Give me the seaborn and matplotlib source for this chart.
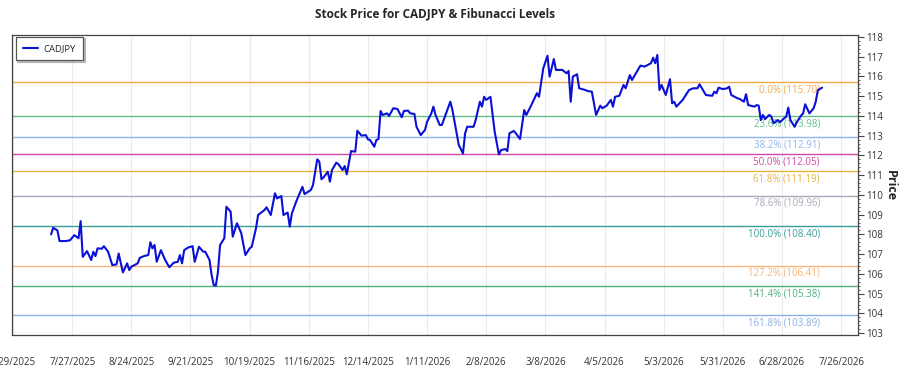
import matplotlib
matplotlib.use("Agg")
import matplotlib.pyplot as plt
import matplotlib.transforms as mtransforms
from matplotlib.ticker import MultipleLocator, FixedLocator
import seaborn as sns
import pandas as pd
import numpy as np

# ---------------- data ----------------
dates = [
    "2025-07-17", "2025-07-18", "2025-07-20", "2025-07-21", "2025-07-24", "2025-07-26", "2025-07-28", "2025-07-30", "2025-07-31",
    "2025-08-01", "2025-08-03", "2025-08-05", "2025-08-06", "2025-08-07", "2025-08-08", "2025-08-10", "2025-08-11", "2025-08-13",
    "2025-08-15", "2025-08-17", "2025-08-18", "2025-08-20", "2025-08-22", "2025-08-23", "2025-08-24", "2025-08-27", "2025-08-28",
    "2025-08-30", "2025-09-01", "2025-09-02", "2025-09-03", "2025-09-04", "2025-09-05", "2025-09-07", "2025-09-09", "2025-09-11",
    "2025-09-13", "2025-09-15", "2025-09-16", "2025-09-17", "2025-09-18", "2025-09-20", "2025-09-22", "2025-09-23", "2025-09-25",
    "2025-09-27", "2025-09-28", "2025-09-30", "2025-10-01", "2025-10-02", "2025-10-03", "2025-10-04", "2025-10-05", "2025-10-07",
    "2025-10-08", "2025-10-10", "2025-10-11", "2025-10-13", "2025-10-15", "2025-10-17", "2025-10-19", "2025-10-20", "2025-10-22",
    "2025-10-23", "2025-10-26", "2025-10-27", "2025-10-29", "2025-10-31", "2025-11-01", "2025-11-03", "2025-11-04", "2025-11-06",
    "2025-11-07", "2025-11-08", "2025-11-10", "2025-11-11", "2025-11-13", "2025-11-14", "2025-11-17", "2025-11-18", "2025-11-20",
    "2025-11-21", "2025-11-22", "2025-11-23", "2025-11-25", "2025-11-26", "2025-11-27", "2025-11-29", "2025-11-30", "2025-12-02",
    "2025-12-03", "2025-12-04", "2025-12-06", "2025-12-08", "2025-12-09", "2025-12-11", "2025-12-13", "2025-12-14", "2025-12-15",
    "2025-12-17", "2025-12-18", "2025-12-19", "2025-12-20", "2025-12-21", "2025-12-23", "2025-12-24", "2025-12-26", "2025-12-28",
    "2025-12-30", "2025-12-31", "2026-01-02", "2026-01-03", "2026-01-05", "2026-01-06", "2026-01-08", "2026-01-10", "2026-01-11",
    "2026-01-13", "2026-01-14", "2026-01-15", "2026-01-17", "2026-01-18", "2026-01-20", "2026-01-22", "2026-01-23", "2026-01-26",
    "2026-01-28", "2026-01-29", "2026-01-30", "2026-02-02", "2026-02-03", "2026-02-05", "2026-02-06", "2026-02-07", "2026-02-08",
    "2026-02-10", "2026-02-12", "2026-02-14", "2026-02-15", "2026-02-17", "2026-02-18", "2026-02-19", "2026-02-21", "2026-02-22",
    "2026-02-24", "2026-02-26", "2026-02-27", "2026-03-01", "2026-03-04", "2026-03-05", "2026-03-07", "2026-03-09", "2026-03-10",
    "2026-03-12", "2026-03-13", "2026-03-16", "2026-03-18", "2026-03-19", "2026-03-20", "2026-03-21", "2026-03-23", "2026-03-24",
    "2026-03-27", "2026-03-28", "2026-03-30", "2026-04-01", "2026-04-03", "2026-04-04", "2026-04-06", "2026-04-08", "2026-04-09",
    "2026-04-10", "2026-04-12", "2026-04-14", "2026-04-15", "2026-04-17", "2026-04-18", "2026-04-22", "2026-04-24", "2026-04-27",
    "2026-04-28", "2026-04-29", "2026-04-30", "2026-05-01", "2026-05-02", "2026-05-04", "2026-05-06", "2026-05-07", "2026-05-08",
    "2026-05-09", "2026-05-12", "2026-05-15", "2026-05-17", "2026-05-19", "2026-05-20", "2026-05-23", "2026-05-26", "2026-05-27",
    "2026-05-28", "2026-05-29", "2026-05-31", "2026-06-02", "2026-06-03", "2026-06-04", "2026-06-07", "2026-06-08", "2026-06-10",
    "2026-06-11", "2026-06-12", "2026-06-15", "2026-06-16", "2026-06-17", "2026-06-18", "2026-06-19", "2026-06-20", "2026-06-22",
    "2026-06-23", "2026-06-24", "2026-06-26", "2026-06-27", "2026-06-29", "2026-06-30", "2026-07-01", "2026-07-02", "2026-07-04",
    "2026-07-05", "2026-07-07", "2026-07-08", "2026-07-09", "2026-07-11", "2026-07-13", "2026-07-14", "2026-07-15", "2026-07-17",
]

prices = [
    108.00, 108.33, 108.20, 107.66, 107.66, 107.70, 107.96, 107.80, 108.67,
    106.86, 107.15, 106.70, 107.12, 106.90, 107.29, 107.27, 107.40, 107.12,
    106.44, 106.48, 107.03, 106.07, 106.53, 106.19, 106.36, 106.53, 106.81,
    106.90, 106.95, 107.60, 107.29, 107.46, 106.61, 107.20, 106.70, 106.33,
    106.56, 106.61, 106.95, 106.53, 107.20, 107.34, 107.40, 106.61, 107.37,
    107.12, 107.12, 106.70, 105.94, 105.43, 105.40, 106.10, 107.46, 107.80,
    109.40, 109.15, 107.88, 108.56, 108.07, 106.95, 107.29, 107.37, 108.30,
    108.98, 109.23, 109.37, 108.98, 110.08, 109.82, 109.94, 108.98, 109.10,
    108.39, 109.06, 109.65, 109.90, 110.41, 110.04, 110.25, 110.50, 111.80,
    111.68, 110.79, 110.89, 111.17, 110.67, 111.26, 111.63, 111.56, 111.26,
    111.46, 111.04, 112.22, 112.19, 113.25, 113.00, 113.03, 112.81, 112.78,
    112.44, 112.78, 112.83, 114.25, 114.05, 114.13, 114.00, 114.39, 114.35,
    113.93, 114.25, 114.27, 114.13, 114.10, 113.45, 113.03, 113.29, 113.70,
    114.13, 114.47, 114.05, 113.54, 113.54, 114.13, 114.72, 114.30, 112.53,
    112.10, 113.12, 113.45, 113.45, 113.79, 114.72, 114.47, 114.97, 114.81,
    114.97, 113.20, 112.05, 112.27, 112.32, 112.22, 113.12, 113.24, 113.12,
    112.83, 114.30, 114.05, 114.47, 115.15, 114.97, 116.41, 117.05, 115.99,
    116.88, 116.33, 116.33, 116.16, 116.28, 114.72, 115.99, 116.11, 115.40,
    115.31, 115.26, 115.23, 114.05, 114.52, 114.39, 114.52, 114.81, 114.47,
    114.97, 115.02, 115.57, 115.40, 116.07, 115.82, 116.55, 116.50, 116.67,
    116.95, 116.67, 117.09, 115.31, 115.57, 115.06, 115.86, 114.64, 114.72,
    114.47, 114.81, 115.31, 115.40, 115.40, 115.60, 115.06, 115.02, 115.23,
    115.15, 115.43, 115.36, 115.40, 115.48, 115.06, 114.89, 114.86, 114.72,
    115.10, 114.55, 114.47, 114.55, 114.52, 113.79, 114.05, 113.84, 114.05,
    113.96, 113.63, 113.79, 113.68, 113.88, 113.96, 114.42, 113.79, 113.45,
    113.68, 114.01, 114.13, 114.59, 114.13, 114.39, 114.72, 115.31, 115.43,
]

fib_ratios = ["0.0%", "23.6%", "38.2%", "50.0%", "61.8%", "78.6%", "100.0%", "127.2%", "141.4%", "161.8%"]
fib_levels = [115.70, 113.98, 112.91, 112.05, 111.19, 109.96, 108.40, 106.41, 105.38, 103.89]
fib_colors = ["#f6a94a", "#63c08a", "#8fb6ec", "#cc4aa6", "#e9b43f",
              "#a3a9b8", "#3b9e9c", "#f8b47a", "#4fb27c", "#8ab0e6"]

tick_dates = ["2025-06-29", "2025-07-27", "2025-08-24", "2025-09-21", "2025-10-19",
              "2025-11-16", "2025-12-14", "2026-01-11", "2026-02-08", "2026-03-08",
              "2026-04-05", "2026-05-03", "2026-05-31", "2026-06-28", "2026-07-26"]
tick_labels = ["6/29/2025", "7/27/2025", "8/24/2025", "9/21/2025", "10/19/2025",
               "11/16/2025", "12/14/2025", "1/11/2026", "2/8/2026", "3/8/2026",
               "4/5/2026", "5/3/2026", "5/31/2026", "6/28/2026", "7/26/2026"]

# ---------------- plot ----------------
sns.set_style("white")
plt.rcParams["font.family"] = ["Open Sans", "DejaVu Sans"]

df = pd.DataFrame({"Date": pd.to_datetime(dates), "Price": prices})

fig = plt.figure(figsize=(9, 3.75), dpi=100)
ax = fig.add_axes([12 / 900, 1 - 335 / 375, 846 / 900, 300 / 375])

# vertical grid
tick_dt = pd.to_datetime(tick_dates)
for d in tick_dt:
    ax.axvline(d, color="#ebebeb", lw=0.8, zorder=0)

# fib levels
trans = mtransforms.blended_transform_factory(ax.transAxes, ax.transData)
for r, lv, c in zip(fib_ratios, fib_levels, fib_colors):
    ax.axhline(lv, color=c, lw=1.0, zorder=1)
    ax.annotate(f"{r} ({lv:.2f})", xy=(0.955, lv), xycoords=trans,
                xytext=(0, -1.5), textcoords="offset points",
                ha="right", va="top", fontsize=7, color=c, zorder=2)

sns.lineplot(data=df, x="Date", y="Price", ax=ax, color="#0a10d6",
             lw=1.5, label="CADJPY", zorder=3)

ax.set_xlim(pd.Timestamp("2025-06-28 12:00"), pd.Timestamp("2026-08-03"))
ax.set_ylim(102.9, 118.1)

ax.xaxis.set_major_locator(FixedLocator(matplotlib.dates.date2num(tick_dt)))
ax.set_xticklabels(tick_labels)
ax.yaxis.tick_right()
ax.yaxis.set_label_position("right")
ax.yaxis.set_major_locator(MultipleLocator(1))
ax.yaxis.set_minor_locator(MultipleLocator(0.2))
ax.tick_params(axis="x", which="major", direction="out", length=4, width=0.8,
               color="#444444", labelsize=7, labelcolor="#333333", pad=12)
ax.tick_params(axis="y", which="major", direction="out", length=4, width=0.8,
               color="#444444", labelsize=7, labelcolor="#333333", pad=2)
ax.tick_params(axis="y", which="minor", direction="out", length=1.5, width=0.6,
               color="#444444", right=True, left=False)
for s in ax.spines.values():
    s.set_color("#444444")
    s.set_linewidth(0.9)

ax.set_xlabel("")
ax.set_ylabel("Price", fontsize=9, fontweight="bold", rotation=270, labelpad=10)
ax.set_title("Stock Price for CADJPY & Fibunacci Levels", fontsize=8.5,
             fontweight="bold", pad=13)

leg = ax.legend(loc="upper left", fontsize=6.8, frameon=True, fancybox=False,
                shadow={"ox": 1, "oy": -1, "color": "#999999", "alpha": 0.6},
                borderpad=0.75, handlelength=1.6, handletextpad=0.6,
                borderaxespad=0, bbox_to_anchor=(4 / 846, 1 - 2 / 300))
leg.get_frame().set_edgecolor("#555555")
leg.get_frame().set_linewidth(0.9)

fig.savefig("out.png", dpi=100)
